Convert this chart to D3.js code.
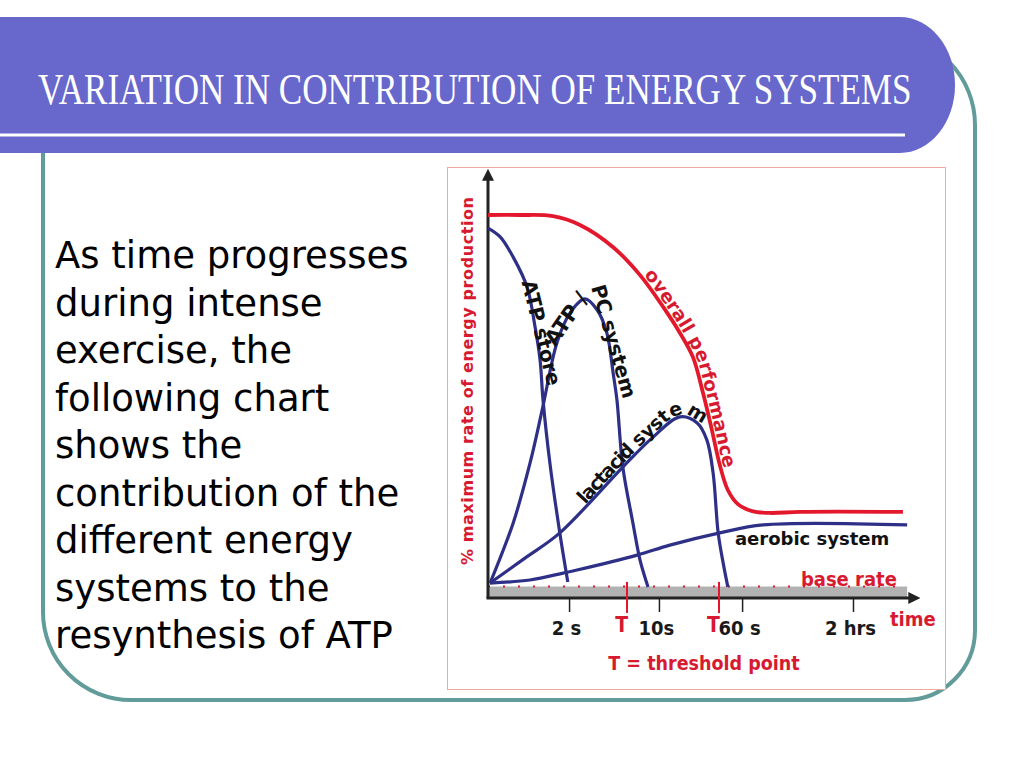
<!DOCTYPE html>
<html lang="en">
<head>
<meta charset="UTF-8">
<script src="https://cdn.jsdelivr.net/npm/d3@7"></script>
<title>Variation in contribution of energy systems</title>
<style>
  body { margin: 0; background: #fff; }
</style>
</head>
<body>
<script>
// Slide text
var titleText = "VARIATION IN CONTRIBUTION OF ENERGY SYSTEMS";
var bodyLines = ["As time progresses", "during intense", "exercise, the", "following chart",
  "shows the", "contribution of the", "different energy", "systems to the", "resynthesis of ATP"];

// x = position along the (non-linear) time axis, 0..100 ; y = % of maximum rate
var overallX = [0, 7.6, 15.5, 21.9, 29.8, 36.2, 41.7, 45.7, 48.8, 51.2, 53.3, 55.2, 57.1, 59.5, 62.9, 67.1, 74.3, 98.8];
var overallY = [100, 100, 99.7, 97.4, 91.6, 84.3, 76.0, 69.2, 62.9, 53.5, 43.9, 34.7, 28.2, 24.5, 22.7, 22.2, 22.5, 22.5];

var atpStoreX = [0, 2.9, 6.0, 9.3, 11.2, 12.4, 13.1, 14.8, 17.1, 19.0];
var atpStoreY = [96.6, 94.3, 89.0, 81.2, 70.8, 62.1, 51.7, 34.7, 17.0, 4.2];

var atpPcX = [0.5, 6.0, 10.0, 12.9, 16.4, 19.5, 23.1, 26.0, 28.3, 29.8, 30.7, 32.1, 34.5, 36.2, 38.1];
var atpPcY = [3.9, 19.6, 35.2, 49.1, 66.6, 74.4, 78.1, 75.2, 69.2, 58.7, 51.7, 34.2, 19.6, 9.9, 2.9];

var lacticX = [0.5, 8.8, 17.1, 32.1, 39.3, 45.7, 49.8, 52.1, 53.6, 54.8, 56.0, 57.1];
var lacticY = [3.9, 10.4, 17.0, 34.2, 42.0, 47.3, 45.7, 41.3, 32.6, 17.0, 9.1, 2.9];

var aerobicX = [0.5, 10.0, 17.9, 21.2, 35.5, 43.3, 55.2, 65.5, 99.8];
var aerobicY = [3.9, 4.7, 6.5, 7.3, 11.2, 13.8, 17.0, 19.1, 19.1];

var baseRate = 3;
var tickPos = [19.3, 40.7, 60.5, 86.9];
var tickLabels = ["2 s", "10s", "60 s", "2 hrs"];
var thresholdPos = [33.1, 55.0];

var w = 1024, h = 768;
var blue = "#2e3087", red = "#e3182d", redText = "#d71a30";
var sans = "'DejaVu Sans', sans-serif";
var condensed = "'DejaVu Sans Condensed', 'DejaVu Sans', sans-serif";

var svg = d3.select("body").append("svg")
  .attr("width", w)
  .attr("height", h);

// teal frame
svg.append("path")
  .attr("d", "M43,40 V612 A88,88 0 0 0 131,700 H905 A70,70 0 0 0 975,630 V125 A90,90 0 0 0 885,35 H43 Z")
  .attr("fill", "none")
  .attr("stroke", "#629c9a")
  .attr("stroke-width", 4);

// title bar
svg.append("path")
  .attr("d", "M0,17 H900 A55,68 0 0 1 955,85 A55,68 0 0 1 900,153 H0 Z")
  .attr("fill", "#6767cc");
svg.append("rect")
  .attr("x", 0).attr("y", 133.5).attr("width", 905).attr("height", 3)
  .attr("fill", "#fff");

var title = svg.append("text")
  .attr("x", 0).attr("y", 0)
  .attr("font-family", "'Liberation Serif', serif")
  .attr("font-size", 44)
  .attr("fill", "#fff")
  .text(titleText);
var natural = title.node().getComputedTextLength();
title.attr("transform", "translate(38,104) scale(" + (874 / natural) + ",1)");

// body text
svg.append("g").selectAll("text")
  .data(bodyLines)
  .enter()
  .append("text")
  .attr("x", 55)
  .attr("y", function (d, i) { return 268 + i * 47.5; })
  .attr("font-family", sans)
  .attr("font-size", 37)
  .attr("fill", "#000")
  .text(function (d) { return d; });

// chart picture box
svg.append("rect")
  .attr("x", 447.5).attr("y", 167.5).attr("width", 498).attr("height", 522)
  .attr("fill", "#fff")
  .attr("stroke", "#eeaaa0")
  .attr("stroke-width", 1);

var xScale = d3.scaleLinear().domain([0, 100]).range([488, 908]);
var yScale = d3.scaleLinear().domain([0, 100]).range([598, 215]);

var chart = svg.append("g");

// base rate band and dotted line
chart.append("rect")
  .attr("x", xScale(0))
  .attr("y", yScale(baseRate))
  .attr("width", xScale(99.8) - xScale(0))
  .attr("height", yScale(0) - yScale(baseRate))
  .attr("fill", "#b2b2b2");
chart.append("line")
  .attr("x1", xScale(0)).attr("x2", xScale(99.8))
  .attr("y1", yScale(baseRate)).attr("y2", yScale(baseRate))
  .attr("stroke", red)
  .attr("stroke-width", 2)
  .attr("stroke-dasharray", "2 13");

// axes
var defs = svg.append("defs");
defs.append("marker")
  .attr("id", "arrow")
  .attr("viewBox", "0 0 10 10")
  .attr("refX", 5).attr("refY", 5)
  .attr("markerWidth", 4).attr("markerHeight", 4)
  .attr("orient", "auto")
  .append("path")
  .attr("d", "M0,0 L10,5 L0,10 Z")
  .attr("fill", "#222");

chart.append("line")
  .attr("x1", xScale(0)).attr("y1", yScale(0))
  .attr("x2", xScale(0)).attr("y2", yScale(110.5))
  .attr("stroke", "#222").attr("stroke-width", 3)
  .attr("marker-end", "url(#arrow)");
chart.append("line")
  .attr("x1", xScale(0) - 1.5).attr("y1", yScale(0))
  .attr("x2", xScale(101.5)).attr("y2", yScale(0))
  .attr("stroke", "#222").attr("stroke-width", 3)
  .attr("marker-end", "url(#arrow)");

var xAxis = d3.axisBottom(xScale)
  .tickValues(tickPos)
  .tickFormat(function (d, i) { return tickLabels[i]; })
  .tickSize(14);
var axisG = chart.append("g")
  .attr("transform", "translate(0," + yScale(0) + ")")
  .call(xAxis);
axisG.select(".domain").remove();
axisG.selectAll(".tick line").attr("stroke", "#222").attr("stroke-width", 1.5);
axisG.selectAll(".tick text")
  .attr("y", 23)
  .attr("x", -3)
  .attr("font-family", condensed)
  .attr("font-weight", "bold")
  .attr("font-size", 20)
  .attr("fill", "#1a1a1a");

// threshold markers
var thr = chart.append("g").selectAll("g")
  .data(thresholdPos)
  .enter()
  .append("g");
thr.append("line")
  .attr("x1", function (d) { return xScale(d); })
  .attr("x2", function (d) { return xScale(d); })
  .attr("y1", yScale(4.2))
  .attr("y2", yScale(-3.9))
  .attr("stroke", red)
  .attr("stroke-width", 2);
thr.append("text")
  .attr("x", function (d) { return xScale(d) + 1; })
  .attr("y", 632)
  .attr("text-anchor", "end")
  .attr("font-family", condensed)
  .attr("font-weight", "bold")
  .attr("font-size", 21)
  .attr("fill", redText)
  .text("T");

// curves
var line = d3.line()
  .x(function (d) { return xScale(d[0]); })
  .y(function (d) { return yScale(d[1]); })
  .curve(d3.curveCatmullRom.alpha(0.5));

function pairs(xs, ys) { return xs.map(function (v, i) { return [v, ys[i]]; }); }

var series = [
  { id: "aerobic", pts: pairs(aerobicX, aerobicY), color: blue, width: 3.2 },
  { id: "lactic", pts: pairs(lacticX, lacticY), color: blue, width: 3.2 },
  { id: "atppc", pts: pairs(atpPcX, atpPcY), color: blue, width: 3.2 },
  { id: "atpstore", pts: pairs(atpStoreX, atpStoreY), color: blue, width: 3.2 },
  { id: "overall", pts: pairs(overallX, overallY), color: red, width: 3.8 }
];

chart.selectAll("path.curve")
  .data(series)
  .enter()
  .append("path")
  .attr("class", "curve")
  .attr("id", function (d) { return d.id; })
  .attr("d", function (d) { return line(d.pts); })
  .attr("fill", "none")
  .attr("stroke", function (d) { return d.color; })
  .attr("stroke-width", function (d) { return d.width; })
  .attr("stroke-linejoin", "round");

// straight rotated labels beside the steep curves
var rotatedLabels = [
  { text: "ATP store", x: 8.0, y: 82.5, angle: 76, size: 20 },
  { text: "ATP /", x: 16.0, y: 65.5, angle: -55, size: 21 },
  { text: "PC system", x: 24.5, y: 81.2, angle: 74, size: 20 }
];
chart.selectAll("text.rot")
  .data(rotatedLabels)
  .enter()
  .append("text")
  .attr("class", "rot")
  .attr("transform", function (d) {
    return "translate(" + xScale(d.x) + "," + yScale(d.y) + ") rotate(" + d.angle + ")";
  })
  .attr("font-family", sans)
  .attr("font-weight", "bold")
  .attr("font-size", function (d) { return d.size; })
  .attr("fill", "#111")
  .text(function (d) { return d.text; });

// labels that follow the curves
function offsetAtX(node, px) {
  var L = node.getTotalLength();
  for (var s = 0; s < L; s += 0.5) {
    if (node.getPointAtLength(s).x >= px) return s;
  }
  return 0;
}

var curveLabels = [
  { id: "lactic", parts: [["lactacid", -1.5], [" system", -0.3]], start: 23.5, color: "#111", size: 19, dy: -2 },
  { id: "overall", parts: [["overall performance", 0]], start: 36.5, color: redText, size: 18.5, dy: -3 }
];

curveLabels.forEach(function (c) {
  var node = document.getElementById(c.id);
  var tp = chart.append("text")
    .attr("font-family", sans)
    .attr("font-weight", "bold")
    .attr("font-size", c.size)
    .attr("fill", c.color)
    .attr("dy", c.dy)
    .append("textPath")
    .attr("href", "#" + c.id)
    .attr("startOffset", offsetAtX(node, xScale(c.start)));
  c.parts.forEach(function (p) {
    tp.append("tspan").attr("letter-spacing", p[1]).text(p[0]);
  });
});

// other labels
chart.append("text")
  .attr("x", xScale(58.8)).attr("y", yScale(13.8))
  .attr("font-family", sans)
  .attr("font-weight", "bold")
  .attr("font-size", 18)
  .attr("fill", "#111")
  .text("aerobic system");

chart.append("text")
  .attr("x", xScale(74.5)).attr("y", yScale(baseRate) - 1)
  .attr("font-family", condensed)
  .attr("font-weight", "bold")
  .attr("font-size", 20)
  .attr("fill", redText)
  .text("base rate");

chart.append("text")
  .attr("x", 890).attr("y", 626)
  .attr("font-family", condensed)
  .attr("font-weight", "bold")
  .attr("font-size", 20)
  .attr("fill", redText)
  .text("time");

chart.append("text")
  .attr("x", 704).attr("y", 670)
  .attr("text-anchor", "middle")
  .attr("font-family", condensed)
  .attr("font-weight", "bold")
  .attr("font-size", 19.5)
  .attr("fill", redText)
  .text("T = threshold point");

chart.append("text")
  .attr("transform", "translate(473," + 381 + ") rotate(-90)")
  .attr("text-anchor", "middle")
  .attr("font-family", sans)
  .attr("font-weight", "bold")
  .attr("font-size", 16)
  .attr("textLength", 368)
  .attr("fill", redText)
  .text("% maximum rate of energy production");
</script>
</body>
</html>
